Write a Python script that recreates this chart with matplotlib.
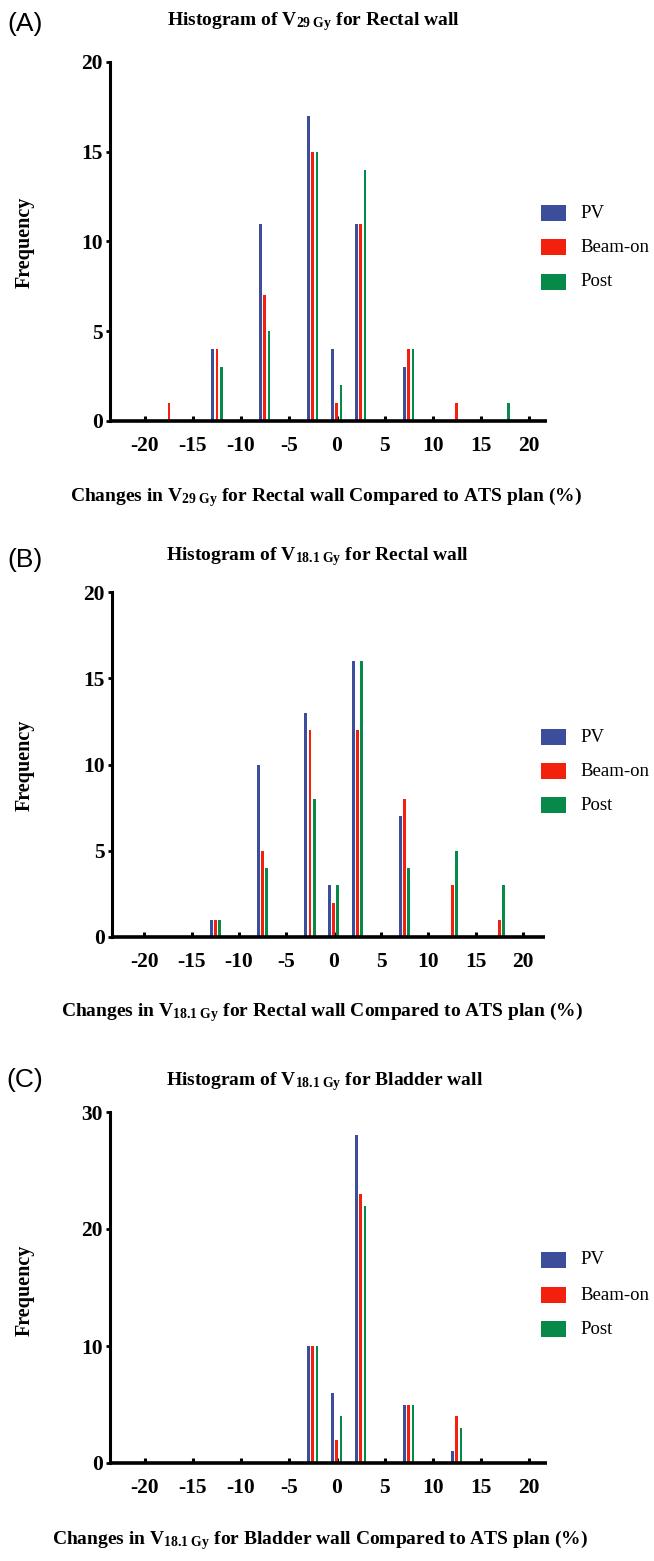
import matplotlib
matplotlib.use("Agg")
import matplotlib.pyplot as plt
import numpy as np
from matplotlib.patches import Rectangle

plt.rcParams['mathtext.fontset'] = 'custom'
plt.rcParams['mathtext.rm'] = 'Liberation Serif'
plt.rcParams['mathtext.bf'] = 'Liberation Serif:bold'
plt.rcParams['mathtext.it'] = 'Liberation Serif:italic'
plt.rcParams['axes.unicode_minus'] = False

# ---- data ----
series = ["PV", "Beam-on", "Post"]
colors = ["#3b4d9b", "#f2200c", "#07894a"]

bins_A = [-17.5, -12.5, -7.5, -2.5, 0, 2.5, 7.5, 12.5, 17.5]
pv_A   = [0, 4, 11, 17, 4, 11, 3, 0, 0]
beam_A = [1, 4, 7, 15, 1, 11, 4, 1, 0]
post_A = [0, 3, 5, 15, 2, 14, 4, 0, 1]

bins_B = [-12.5, -7.5, -2.5, 0, 2.5, 7.5, 12.5, 17.5]
pv_B   = [1, 10, 13, 3, 16, 7, 0, 0]
beam_B = [1, 5, 12, 2, 12, 8, 3, 1]
post_B = [1, 4, 8, 3, 16, 4, 5, 3]

bins_C = [-2.5, 0, 2.5, 7.5, 12.5]
pv_C   = [10, 6, 28, 5, 1]
beam_C = [10, 2, 23, 5, 4]
post_C = [10, 4, 22, 5, 3]

xticks = [-20, -15, -10, -5, 0, 5, 10, 15, 20]

W, H = 654, 1561
fig = plt.figure(figsize=(W/100, H/100), dpi=100)

def pax(x0, x1, ytop, ybot):
    return fig.add_axes([x0/W, 1-ybot/H, (x1-x0)/W, (ybot-ytop)/H])

SERIF = 'Liberation Serif'

panels = [
    dict(tag="(A)", tagy=24, title=r"Histogram of V$_{\mathbf{29\ Gy}}$ for Rectal wall", ty=22, tx=313,
         xl=r"Changes in V$_{\mathbf{29\ Gy}}$ for Rectal wall Compared to ATS plan (%)", xly=497, xlx=326,
         box=(109.5, 547, 62, 421), xlim=(-23.7, 21.9), ylim=20, yt=[0, 5, 10, 15, 20],
         bins=bins_A, vals=[pv_A, beam_A, post_A], leg=[213, 247, 282], fy=242),
    dict(tag="(B)", tagy=560, title=r"Histogram of V$_{\mathbf{18.1\ Gy}}$ for Rectal wall", ty=557, tx=318,
         xl=r"Changes in V$_{\mathbf{18.1\ Gy}}$ for Rectal wall Compared to ATS plan (%)", xly=1012, xlx=322,
         box=(112, 545, 592, 937), xlim=(-23.4, 22.3), ylim=20, yt=[0, 5, 10, 15, 20],
         bins=bins_B, vals=[pv_B, beam_B, post_B], leg=[737, 771, 805], fy=765),
    dict(tag="(C)", tagy=1080, title=r"Histogram of V$_{\mathbf{18.1\ Gy}}$ for Bladder wall", ty=1082, tx=325,
         xl=r"Changes in V$_{\mathbf{18.1\ Gy}}$ for Bladder wall Compared to ATS plan (%)", xly=1540, xlx=320,
         box=(109.5, 547, 1112, 1463), xlim=(-23.7, 21.9), ylim=30, yt=[0, 10, 20, 30],
         bins=bins_C, vals=[pv_C, beam_C, post_C], leg=[1260, 1295, 1329], fy=1290),
]

offsets = [-0.44, 0.0, 0.43]
for p in panels:
    ax = pax(*p['box'])
    bins = np.array(p['bins'], dtype=float)
    for vals, off, c in zip(p['vals'], offsets, colors):
        ax.bar(bins + off, vals, width=0.3, color=c, edgecolor='none', zorder=2)
    ax.set_xlim(*p['xlim'])
    ax.set_ylim(0, p['ylim'])
    for s in ['top', 'right']:
        ax.spines[s].set_visible(False)
    ax.spines['bottom'].set_linewidth(2.6)
    ax.spines['left'].set_linewidth(2.2)
    ax.spines['bottom'].set_capstyle('butt')
    ax.set_xticks(xticks)
    ax.set_yticks(p['yt'])
    ax.tick_params(axis='x', direction='in', length=3.5, width=2.2, pad=11)
    ax.tick_params(axis='y', direction='out', length=3, width=2.0, pad=2)
    for lab in ax.get_xticklabels() + ax.get_yticklabels():
        lab.set_fontfamily(SERIF)
        lab.set_fontweight('bold')
        lab.set_fontsize(15.5)
    ax.patch.set_alpha(0)
    # texts
    fig.text(25/W, 1-p['tagy']/H, p['tag'], ha='center', va='center', fontsize=19,
             family='Liberation Sans')
    fig.text(p['tx']/W, 1-p['ty']/H, p['title'], ha='center', va='center', fontsize=14,
             family=SERIF, fontweight='bold')
    fig.text(p['xlx']/W, 1-p['xly']/H, p['xl'], ha='center', va='center', fontsize=14,
             family=SERIF, fontweight='bold')
    fig.text(25/W, 1-p['fy']/H, "Frequency", ha='center', va='center', rotation=90,
             fontsize=14.5, family=SERIF, fontweight='bold')
    # legend
    for name, c, ly in zip(series, colors, p['leg']):
        fig.patches.append(Rectangle((541/W, 1-(ly+8)/H), 25/W, 16/H, transform=fig.transFigure,
                                     facecolor=c, edgecolor='none'))
        fig.text(580/W, 1-ly/H, name, ha='left', va='center', fontsize=13.5, family=SERIF)

fig.savefig("out.png", dpi=100)
